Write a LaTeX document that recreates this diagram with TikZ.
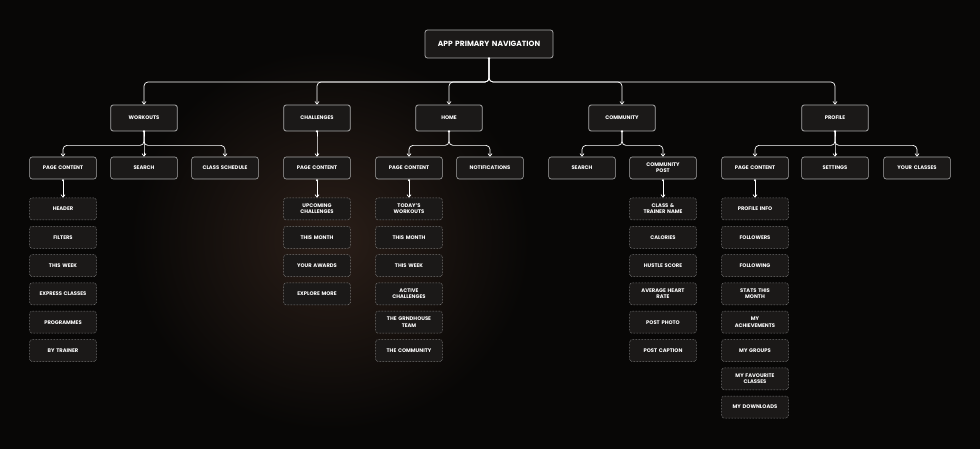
\documentclass[tikz,border=0pt]{standalone}
\usepackage{fontspec}
\setmainfont{Poppins}
\usetikzlibrary{arrows.meta}
\definecolor{bg}{HTML}{080706}
\definecolor{boxfill}{HTML}{1B1918}
\definecolor{edge}{HTML}{A8A8A8}
\definecolor{glow}{HTML}{2A1E18}
\tikzset{
  base/.style={rectangle, rounded corners=2.5pt, fill=boxfill, text=white, font=\bfseries\fontsize{5.2}{6.2}\selectfont, align=center, minimum width=65pt, text width=60pt},
  topbox/.style={base, draw=edge, line width=0.8pt, minimum width=128pt, text width=120pt, minimum height=28pt, font=\bfseries\fontsize{7.5}{9}\selectfont},
  l1/.style={base, draw=edge, line width=0.8pt, minimum height=26pt},
  l2/.style={base, draw=edge, line width=0.6pt, minimum height=22pt},
  l3/.style={base, draw=edge, line width=0.5pt, densely dotted, minimum height=22pt},
  conn/.style={draw=white, line width=0.7pt, rounded corners=4pt, -{Straight Barb[length=2.5pt,width=4pt]}},
  dotconn/.style={draw=white, line width=0.7pt, {Circle[length=2pt]}-{Straight Barb[length=2.5pt,width=4pt]}}
}
\begin{document}
\begin{tikzpicture}[x=1pt,y=-1pt]
\fill[bg] (0,0) rectangle (980,449);
\shade[inner color=glow, outer color=bg] (330,240) ellipse (200pt and 190pt);
\useasboundingbox (0,0) rectangle (980,449);
\node[topbox] (top) at (489,44) {APP PRIMARY NAVIGATION};
\node[l1] (wo) at (144,118) {WORKOUTS};
\node[l1] (ch) at (317,118) {CHALLENGES};
\node[l1] (ho) at (449,118) {HOME};
\node[l1] (co) at (622,118) {COMMUNITY};
\node[l1] (pr) at (835,118) {PROFILE};
\foreach \n in {wo,ch,ho,co,pr}{
  \draw[conn] (top.south) -- (489,82) -| (\n.north);
}
\fill[white] (top.south) circle (1.3pt);
\node[l2] (wopc) at (63,168) {PAGE CONTENT};
\node[l2] (wose) at (144,168) {SEARCH};
\node[l2] (wocs) at (225,168) {CLASS SCHEDULE};
\node[l2] (chpc) at (317,168) {PAGE CONTENT};
\node[l2] (hopc) at (409,168) {PAGE CONTENT};
\node[l2] (hono) at (490,168) {NOTIFICATIONS};
\node[l2] (cose) at (582,168) {SEARCH};
\node[l2] (copo) at (663,168) {COMMUNITY\\POST};
\node[l2] (prpc) at (755,168) {PAGE CONTENT};
\node[l2] (prse) at (835,168) {SETTINGS};
\node[l2] (prcl) at (917,168) {YOUR CLASSES};
\foreach \p/\c in {wo/wopc, wo/wose, wo/wocs, ch/chpc, ho/hopc, ho/hono, co/cose, co/copo, pr/prpc, pr/prse, pr/prcl}{
  \draw[conn] (\p.south) -- ([yshift=-14pt]\p.south) -| (\c.north);
}
\foreach \p in {wo,ch,ho,co,pr}{\fill[white] (\p.south) circle (1.3pt);}
\node[l3] (a1) at (63,209) {HEADER};
\node[l3] (a2) at (63,237.3) {FILTERS};
\node[l3] (a3) at (63,265.6) {THIS WEEK};
\node[l3] (a4) at (63,293.9) {EXPRESS CLASSES};
\node[l3] (a5) at (63,322.2) {PROGRAMMES};
\node[l3] (a6) at (63,350.5) {BY TRAINER};
\node[l3] (b1) at (317,209) {UPCOMING\\CHALLENGES};
\node[l3] (b2) at (317,237.3) {THIS MONTH};
\node[l3] (b3) at (317,265.6) {YOUR AWARDS};
\node[l3] (b4) at (317,293.9) {EXPLORE MORE};
\node[l3] (c1) at (409,209) {TODAY'S\\WORKOUTS};
\node[l3] (c2) at (409,237.3) {THIS MONTH};
\node[l3] (c3) at (409,265.6) {THIS WEEK};
\node[l3] (c4) at (409,293.9) {ACTIVE\\CHALLENGES};
\node[l3] (c5) at (409,322.2) {THE GRNDHOUSE\\TEAM};
\node[l3] (c6) at (409,350.5) {THE COMMUNITY};
\node[l3] (d1) at (663,209) {CLASS \&\\TRAINER NAME};
\node[l3] (d2) at (663,237.3) {CALORIES};
\node[l3] (d3) at (663,265.6) {HUSTLE SCORE};
\node[l3] (d4) at (663,293.9) {AVERAGE HEART\\RATE};
\node[l3] (d5) at (663,322.2) {POST PHOTO};
\node[l3] (d6) at (663,350.5) {POST CAPTION};
\node[l3] (e1) at (755,209) {PROFILE INFO};
\node[l3] (e2) at (755,237.3) {FOLLOWERS};
\node[l3] (e3) at (755,265.6) {FOLLOWING};
\node[l3] (e4) at (755,293.9) {STATS THIS\\MONTH};
\node[l3] (e5) at (755,322.2) {MY\\ACHIEVEMENTS};
\node[l3] (e6) at (755,350.5) {MY GROUPS};
\node[l3] (e7) at (755,378.8) {MY FAVOURITE\\CLASSES};
\node[l3] (e8) at (755,407.1) {MY DOWNLOADS};
\foreach \s/\d in {wopc/a1, chpc/b1, hopc/c1, copo/d1, prpc/e1}{
  \draw[dotconn] (\s.south) -- (\d.north);
}
\end{tikzpicture}
\end{document}
